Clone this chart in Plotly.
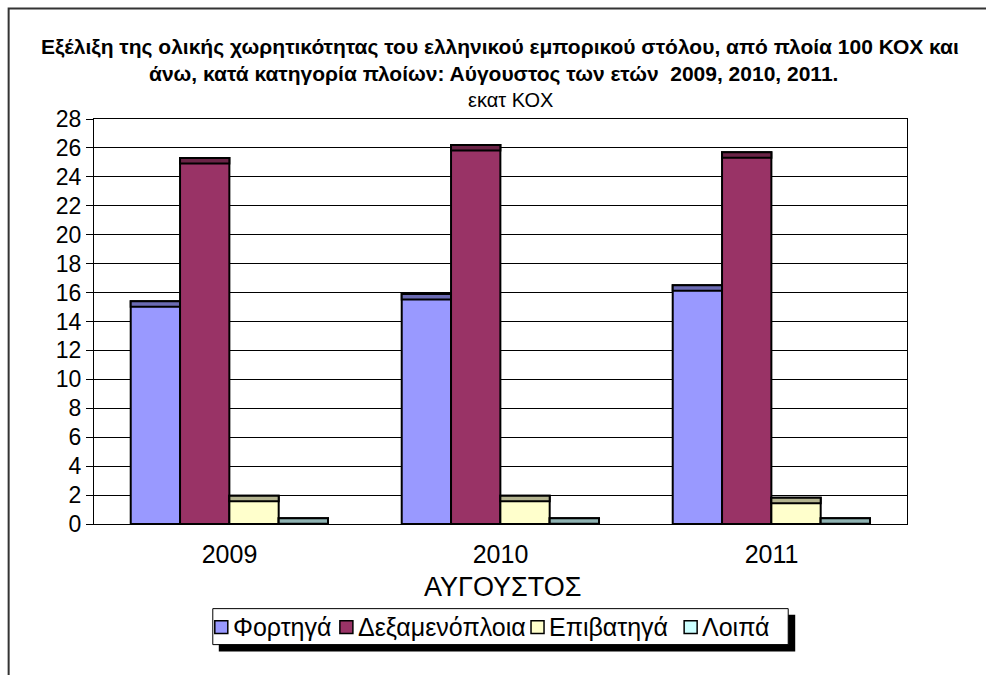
import plotly.graph_objects as go

years = ["2009", "2010", "2011"]
series_names = ["Φορτηγά", "Δεξαμενόπλοια", "Επιβατηγά", "Λοιπά"]
fortiga = [15.4, 15.9, 16.5]
dexamenoploia = [25.3, 26.2, 25.7]
epivatiga = [1.95, 1.95, 1.82]
loipa = [0.39, 0.40, 0.39]

values = [fortiga, dexamenoploia, epivatiga, loipa]
colors = ["#9999FF", "#993366", "#FFFFCC", "#CCFFFF"]
cap_colors = ["#6B6BB3", "#6B2447", "#B3B38F", "#8FB3B3"]
cap_depth = 0.38

FONT = "Liberation Sans, Arial, sans-serif"

# pixel geometry helpers (figure 986x675)
L, R, T, B = 94.3, 906.7, 119.0, 524.3
W, H = R - L, B - T
def px(x):
    return (x - L) / W
def py(y):
    return (B - y) / H

xpos = list(range(len(years)))
bar_w = 0.182
start = -0.3645

fig = go.Figure()
for i, (name, vals) in enumerate(zip(series_names, values)):
    off = start + i * bar_w
    fig.add_trace(go.Bar(
        x=xpos, y=vals, name=name, offset=off, width=bar_w,
        marker=dict(color=colors[i], line=dict(color="black", width=2)),
        hovertemplate=name + ": %{y}<extra></extra>",
    ))
    fig.add_trace(go.Bar(
        x=xpos, y=[cap_depth] * len(vals), base=[v - cap_depth for v in vals],
        offset=off, width=bar_w, showlegend=False, hoverinfo="skip",
        marker=dict(color=cap_colors[i], line=dict(color="black", width=2)),
    ))

fig.update_layout(
    width=986, height=675,
    barmode="overlay",
    paper_bgcolor="white", plot_bgcolor="white",
    margin=dict(l=L, r=986 - R, t=T, b=675 - B, autoexpand=False),
    font=dict(family=FONT, color="black"),
    showlegend=False,
)

fig.update_xaxes(
    range=[-0.5, 2.5], tickvals=xpos, ticktext=years,
    tickfont=dict(size=25), ticks="", ticklabelstandoff=8,
    showline=True, linecolor="black", linewidth=1, mirror=True,
    showgrid=False, zeroline=False,
)
fig.update_yaxes(
    range=[0, 28], dtick=2, tick0=0,
    tickfont=dict(size=23), ticks="outside", ticklen=7, tickcolor="black",
    showline=True, linecolor="black", linewidth=1, mirror=True,
    showgrid=True, gridcolor="black", gridwidth=1, zeroline=False,
)

fig.add_annotation(
    text="<b>Εξέλιξη της ολικής χωρητικότητας του ελληνικού εμπορικού στόλου, από πλοία 100 ΚΟΧ και</b>",
    xref="paper", yref="paper", x=px(500), y=py(47), showarrow=False,
    font=dict(size=21, family=FONT), xanchor="center", yanchor="middle",
)
fig.add_annotation(
    text="<b>άνω, κατά κατηγορία πλοίων: Αύγουστος των ετών  2009, 2010, 2011.</b>",
    xref="paper", yref="paper", x=px(494), y=py(74), showarrow=False,
    font=dict(size=21, family=FONT), xanchor="center", yanchor="middle",
)
fig.add_annotation(
    text="εκατ ΚΟΧ", xref="paper", yref="paper", x=px(510), y=py(100),
    showarrow=False, font=dict(size=20, family=FONT),
    xanchor="center", yanchor="middle",
)
fig.add_annotation(
    text="ΑΥΓΟΥΣΤΟΣ", xref="paper", yref="paper", x=px(502), y=py(587),
    showarrow=False, font=dict(size=27, family=FONT),
    xanchor="center", yanchor="middle",
)

# outer chart frame
fig.add_shape(type="rect", xref="paper", yref="paper",
              x0=px(9), x1=px(1010), y0=py(700), y1=py(8.5),
              line=dict(color="#333333", width=2), fillcolor="rgba(0,0,0,0)")

# legend: shadow, box, symbols and labels
fig.add_shape(type="rect", xref="paper", yref="paper",
              x0=px(219), x1=px(795), y0=py(652), y1=py(615),
              line=dict(width=0), fillcolor="black")
fig.add_shape(type="rect", xref="paper", yref="paper",
              x0=px(213), x1=px(788), y0=py(645), y1=py(609),
              line=dict(color="black", width=1), fillcolor="white")
sym_x = [215, 340, 531, 684]
for i, name in enumerate(series_names):
    fig.add_shape(type="rect", xref="paper", yref="paper",
                  x0=px(sym_x[i]), x1=px(sym_x[i] + 13),
                  y0=py(634), y1=py(621),
                  line=dict(color="black", width=1.5), fillcolor=colors[i])
    fig.add_annotation(text=name, xref="paper", yref="paper",
                       x=px(sym_x[i] + 16), y=py(627.5), showarrow=False,
                       xanchor="left", yanchor="middle",
                       font=dict(size=25, family=FONT))

fig.write_html("out.html")
